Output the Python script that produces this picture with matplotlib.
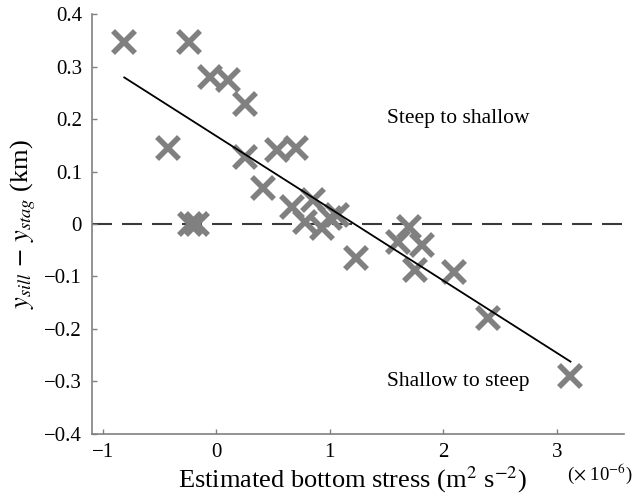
import numpy as np
import matplotlib
matplotlib.use("Agg")
import matplotlib.pyplot as plt

# values
stress = [-0.81, -0.24, -0.055, 0.106, 0.253, -0.428, 0.253, 0.537, 0.70,
          0.41, -0.232, -0.173, 0.664, 0.855, 0.78, 0.93, 1.0, 1.06,
          1.23, 1.70, 1.60, 1.81, 1.75, 2.09, 2.39, 3.12]
dy = [0.348, 0.348, 0.281, 0.275, 0.230, 0.146, 0.128, 0.141, 0.146,
      0.069, 0.0, 0.0, 0.033, 0.045, 0.003, -0.008, 0.012, 0.018,
      -0.065, -0.006, -0.034, -0.040, -0.088, -0.091, -0.18, -0.291]

# fitted line (slope, intercept)
fit_slope = -0.138
fit_icept = 0.168

xticks = [-1, 0, 1, 2, 3]
xticklabels = ["\u22121", "0", "1", "2", "3"]
yticks = [-0.4, -0.3, -0.2, -0.1, 0, 0.1, 0.2, 0.3, 0.4]
yticklabels = ["\u22120.4", "\u22120.3", "\u22120.2", "\u22120.1", "0",
               "0.1", "0.2", "0.3", "0.4"]

plt.rcParams["font.family"] = ["Liberation Serif", "DejaVu Serif"]
plt.rcParams["mathtext.fontset"] = "stix"

fig = plt.figure(figsize=(6.34, 4.98), dpi=100)
ax = fig.add_axes([0.1446, 0.1293, 0.984 - 0.1446, 0.971 - 0.1293])

ax.axhline(0, color="#3a3a3a", lw=1.5, dashes=(9.6, 4.8), zorder=1)

ax.plot(stress, dy, linestyle="none", marker="x", color="#808080",
        markersize=16, markeredgewidth=4.0, zorder=2)

xfit = np.array([min(stress), max(stress)])
ax.plot(xfit, fit_slope * xfit + fit_icept, color="black", lw=1.3, zorder=3)

ax.text(1.50, 0.202, "Steep to shallow", fontsize=15.5, va="center", ha="left")
ax.text(1.50, -0.30, "Shallow to steep", fontsize=15.5, va="center", ha="left")

ax.set_xlim(-1.097, 3.59)
ax.set_ylim(-0.4, 0.4)
ax.set_xticks(xticks)
ax.set_xticklabels(xticklabels)
ax.set_yticks(yticks)
ax.set_yticklabels(yticklabels)

for side in ["top", "right"]:
    ax.spines[side].set_visible(False)
for side in ["left", "bottom"]:
    ax.spines[side].set_color("#808080")
    ax.spines[side].set_linewidth(1.2)

ax.tick_params(direction="in", length=3.5, width=1, color="#808080",
               labelsize=15, pad=7)

ax.set_xlabel("Estimated bottom stress (m$^2$ s$^{-2}$)", fontsize=19,
              va="center")
ax.xaxis.set_label_coords(0.49, -0.11)
ax.set_ylabel(r"$y_{sill}$ $-$ $y_{stag}$ (km)", fontsize=19, va="center")
ax.yaxis.set_label_coords(-0.128, 0.5)

fig.text(0.998, 1 - 474 / 498, r"($\times$ 10$^{-6}$)", fontsize=13.5,
         ha="right", va="center")

fig.savefig("out.png", dpi=100)
